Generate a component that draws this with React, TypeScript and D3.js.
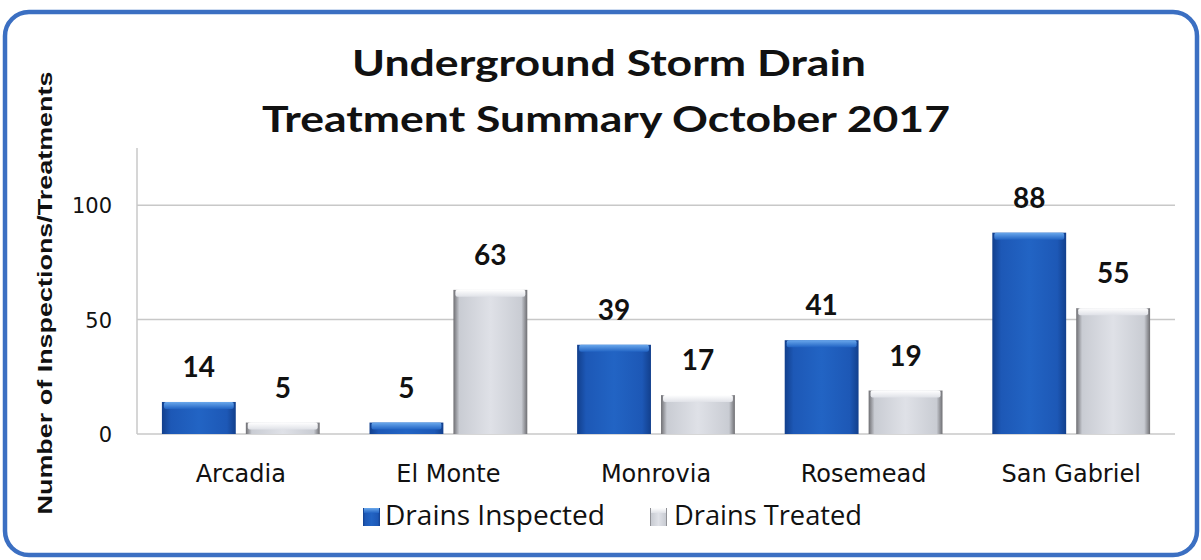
import * as d3 from 'd3';

// Underground storm drain treatment summary, October 2017
const cities = ['Arcadia', 'El Monte', 'Monrovia', 'Rosemead', 'San Gabriel'];
const drainsInspected = [14, 5, 39, 41, 88];
const drainsTreated = [5, 63, 17, 19, 55];
const seriesNames = ['Drains Inspected', 'Drains Treated'];
const yTicks = [0, 50, 100];

const W = 1201;
const H = 560;
const plot = { left: 137, right: 1175, top: 148, bottom: 434 };

export default function App() {
  const x = d3
    .scaleBand<string>()
    .domain(cities)
    .range([plot.left, plot.right])
    .paddingInner(0.24)
    .paddingOuter(0.12);
  const inner = d3
    .scaleBand<number>()
    .domain([0, 1])
    .range([0, x.bandwidth()])
    .paddingInner(0.12);
  const y = d3.scaleLinear().domain([0, 125]).range([plot.bottom, plot.top]);

  const rows = cities.map((c, i) => ({ city: c, values: [drainsInspected[i], drainsTreated[i]] }));

  return (
    <svg width={W} height={H} style={{ position: 'absolute', left: 0, top: 0, background: '#fff' }}>
      <defs>
        <linearGradient id="blueBar" x1="0" x2="1" y1="0" y2="0">
          <stop offset="0" stopColor="#123f8c" />
          <stop offset="0.12" stopColor="#1d58b6" />
          <stop offset="0.5" stopColor="#2264c4" />
          <stop offset="0.88" stopColor="#1d58b6" />
          <stop offset="1" stopColor="#123f8c" />
        </linearGradient>
        <linearGradient id="blueTop" x1="0" x2="0" y1="0" y2="1">
          <stop offset="0" stopColor="#6aa8ec" />
          <stop offset="1" stopColor="#2264c4" />
        </linearGradient>
        <linearGradient id="grayBar" x1="0" x2="1" y1="0" y2="0">
          <stop offset="0" stopColor="#6e6e72" />
          <stop offset="0.08" stopColor="#c9ccd3" />
          <stop offset="0.5" stopColor="#dfe1e7" />
          <stop offset="0.92" stopColor="#c9ccd3" />
          <stop offset="1" stopColor="#6e6e72" />
        </linearGradient>
        <linearGradient id="grayTop" x1="0" x2="0" y1="0" y2="1">
          <stop offset="0" stopColor="#ffffff" />
          <stop offset="1" stopColor="#dfe1e7" />
        </linearGradient>
      </defs>

      <rect x={5} y={12} width={1192} height={543} rx={24} fill="#fff" stroke="#3b6fc2" strokeWidth={4.5} />

      <g fontFamily="Lato, 'Open Sans', sans-serif" fontWeight="bold" fontSize={37} textAnchor="middle" fill="#111">
        <text x={609} y={76} textLength={514} lengthAdjust="spacingAndGlyphs">Underground Storm Drain</text>
        <text x={606} y={132} textLength={688} lengthAdjust="spacingAndGlyphs">Treatment Summary October 2017</text>
      </g>

      <text
        transform={`translate(52,${293}) rotate(-90)`}
        textAnchor="middle"
        fontFamily="'Liberation Sans', Arial, sans-serif"
        fontWeight="bold"
        fontSize={21}
        fill="#111"
        textLength={443}
        lengthAdjust="spacingAndGlyphs"
      >
        Number of Inspections/Treatments
      </text>

      {/* grid + axes */}
      {yTicks.map((t) => (
        <g key={t}>
          <line x1={plot.left} x2={plot.right} y1={y(t)} y2={y(t)} stroke="#c8c8c8" strokeWidth={1.5} />
          <text
            x={112}
            y={y(t) + 8}
            textAnchor="end"
            fontFamily="'DejaVu Sans', Verdana, sans-serif"
            fontSize={21}
            fill="#111"
          >
            {t}
          </text>
        </g>
      ))}
      <line x1={plot.left} x2={plot.left} y1={plot.top} y2={plot.bottom} stroke="#c8c8c8" strokeWidth={1.5} />

      {rows.map((r) => (
        <g key={r.city} transform={`translate(${x(r.city)},0)`}>
          {r.values.map((v, s) => {
            const bx = inner(s) ?? 0;
            const bw = inner.bandwidth();
            const top = y(v);
            const h = plot.bottom - top;
            return (
              <g key={s}>
                <rect x={bx} y={top} width={bw} height={h} fill={s === 0 ? 'url(#blueBar)' : 'url(#grayBar)'} />
                <rect
                  x={bx + 2}
                  y={top}
                  width={bw - 4}
                  height={Math.min(7, h)}
                  rx={2}
                  fill={s === 0 ? 'url(#blueTop)' : 'url(#grayTop)'}
                />
                <text
                  x={bx + bw / 2}
                  y={top - 25}
                  textAnchor="middle"
                  fontFamily="Lato, 'Open Sans', sans-serif"
                  fontWeight="bold"
                  fontSize={28}
                  fill="#111"
                >
                  {v}
                </text>
              </g>
            );
          })}
          <text
            x={x.bandwidth() / 2}
            y={482}
            textAnchor="middle"
            fontFamily="'DejaVu Sans', Verdana, sans-serif"
            fontSize={24}
            fill="#111"
          >
            {r.city}
          </text>
        </g>
      ))}

      {/* legend */}
      <g fontFamily="'Open Sans', sans-serif" fontSize={27} fill="#111">
        <rect x={363} y={508} width={17} height={18} fill="url(#blueBar)" />
        <rect x={364} y={508} width={15} height={5} fill="url(#blueTop)" />
        <text x={385} y={525} textLength={220} lengthAdjust="spacingAndGlyphs">{seriesNames[0]}</text>
        <rect x={650} y={508} width={17} height={18} fill="url(#grayBar)" />
        <rect x={651} y={508} width={15} height={5} fill="url(#grayTop)" />
        <text x={674} y={525} textLength={188} lengthAdjust="spacingAndGlyphs">{seriesNames[1]}</text>
      </g>
    </svg>
  );
}
